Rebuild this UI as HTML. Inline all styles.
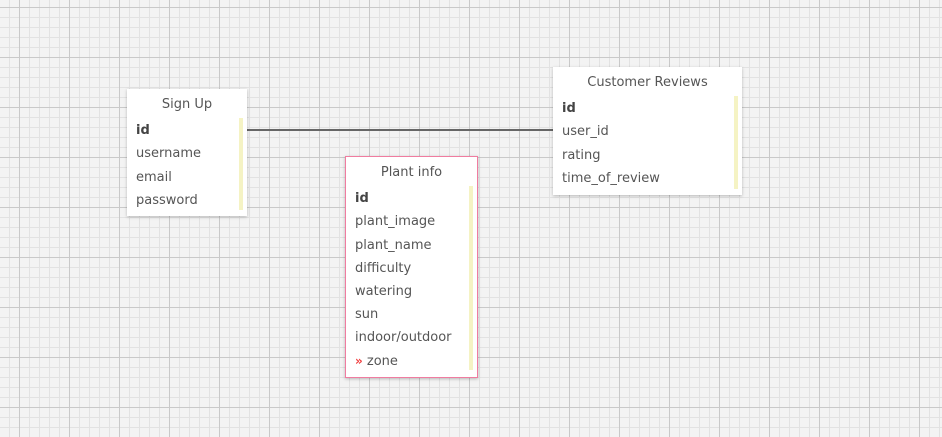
<!DOCTYPE html>
<html><head><style>
html,body{margin:0;padding:0;}
body{width:942px;height:437px;overflow:hidden;position:relative;
background-color:#f3f3f3;
background-image:
linear-gradient(to right,#c9c9c9 1px,transparent 1px),
linear-gradient(to bottom,#c9c9c9 1px,transparent 1px),
linear-gradient(to right,#e2e2e2 1px,transparent 1px),
linear-gradient(to bottom,#e2e2e2 1px,transparent 1px);
background-size:50px 50px,50px 50px,10px 10px,10px 10px;
background-position:19px 7px,19px 7px,9px 7px,9px 7px;
font-family:"DejaVu Sans","Liberation Sans",sans-serif;font-size:13px;color:#555;}
.box{position:absolute;background:#fff;box-shadow:0 1px 3px rgba(0,0,0,0.25);box-sizing:border-box;}
.t{position:absolute;left:0;right:0;text-align:center;}
.r{position:absolute;left:9px;line-height:16px;}
.bar{position:absolute;width:4px;background:#f5f3c4;}
b{color:#444;}
</style></head><body>
<div style="position:absolute;left:247px;top:129px;width:306px;height:2px;background:#666;"></div>

<div class="box" style="left:127px;top:89px;width:120px;height:127px;">
<div class="t" style="top:8px;">Sign Up</div>
<div class="bar" style="left:112px;top:29px;height:92px;"></div>
<div class="r" style="top:34px;"><b>id</b></div>
<div class="r" style="top:57px;">username</div>
<div class="r" style="top:81px;">email</div>
<div class="r" style="top:104px;">password</div>
</div>

<div class="box" style="left:553px;top:67px;width:189px;height:128px;">
<div class="t" style="top:8px;">Customer Reviews</div>
<div class="bar" style="left:181px;top:29px;height:93px;"></div>
<div class="r" style="top:34px;"><b>id</b></div>
<div class="r" style="top:57px;">user_id</div>
<div class="r" style="top:81px;">rating</div>
<div class="r" style="top:104px;">time_of_review</div>
</div>

<div class="box" style="left:345px;top:156px;width:133px;height:222px;border:1px solid #f07ca0;">
<div class="t" style="top:8px;">Plant info</div>
<div class="bar" style="left:123px;top:29px;height:184px;"></div>
<div class="r" style="top:34px;left:9px;"><b>id</b></div>
<div class="r" style="top:57px;left:9px;">plant_image</div>
<div class="r" style="top:81px;left:9px;">plant_name</div>
<div class="r" style="top:104px;left:9px;">difficulty</div>
<div class="r" style="top:127px;left:9px;">watering</div>
<div class="r" style="top:150px;left:9px;">sun</div>
<div class="r" style="top:173px;left:9px;">indoor/outdoor</div>
<div class="r" style="top:196px;left:9px;"><span style="color:#f04040;font-weight:bold;font-size:12px;">»</span> zone</div>
</div>
</body></html>
